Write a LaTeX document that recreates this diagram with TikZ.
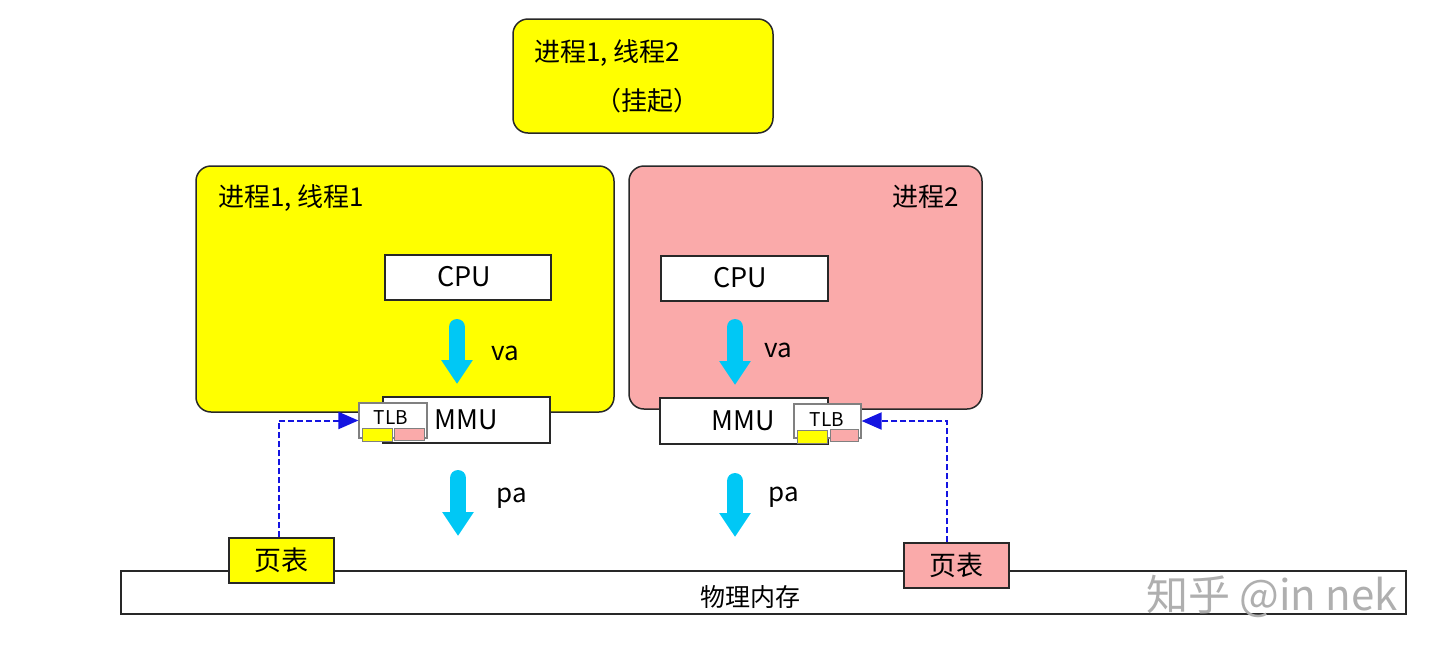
\documentclass[tikz,border=0pt]{standalone}
\usepackage{fontspec}
\setmainfont{Noto Sans CJK SC}
\usetikzlibrary{arrows.meta}
\definecolor{pyellow}{RGB}{255,255,0}
\definecolor{ppink}{RGB}{250,170,170}
\definecolor{acyan}{RGB}{0,200,245}
\definecolor{dblue}{RGB}{20,20,225}
\definecolor{edge}{RGB}{40,40,40}
\definecolor{wm}{RGB}{175,175,175}
\tikzset{
  procbox/.style={draw=edge, line width=0.75pt, rounded corners=7.5pt, inner sep=0pt},
  unitbox/.style={draw=edge, line width=0.75pt, fill=white, inner sep=0pt, font=\fontsize{13.5}{15}\selectfont},
  tlbbox/.style={draw=gray, line width=0.6pt, fill=white, inner sep=0pt},
  label/.style={inner sep=0pt, font=\fontsize{13}{15}\selectfont},
  flow/.style={acyan, line width=8pt, line cap=round, -{Triangle[width=15pt,length=12pt]}},
  dashconn/.style={dblue, line width=1pt, dash pattern=on 3pt off 1.5pt, -{Triangle[width=8.5pt,length=10pt]}},
  mini/.style={draw=gray, line width=0.4pt}
}
\begin{document}
\begin{tikzpicture}[x=0.5pt,y=-0.5pt]
\useasboundingbox (0,0) rectangle (1440,649);
% physical memory
\node[unitbox, minimum width=642.5pt, minimum height=21.5pt] (mem) at (763.5,592.5) {};
\node[label, font=\fontsize{12.5}{14}\selectfont] (memt) at (750,597) {物理内存};
% top suspended thread box
\node[procbox, fill=pyellow, minimum width=130pt, minimum height=57pt] (t2) at (643,76) {};
\node[label, anchor=west] (t2a) at (534,53) {进程1, 线程2};
\node[label] (t2b) at (647,101) {（挂起）};
% process boxes
\node[procbox, fill=pyellow, minimum width=209pt, minimum height=123pt] (p1) at (405,289) {};
\node[label, anchor=west] (p1t) at (218,198) {进程1, 线程1};
\node[procbox, fill=ppink, minimum width=176.5pt, minimum height=121.5pt] (p2) at (805.5,287.5) {};
\node[label] (p2t) at (926,197) {进程2};
% CPUs
\node[unitbox, minimum width=83pt, minimum height=22.5pt] (cpu1) at (468,277.5) {};
\node[label, font=\fontsize{13.5}{15}\selectfont] (cpu1t) at (464,277) {CPU};
\node[unitbox, minimum width=83.5pt, minimum height=22.5pt] (cpu2) at (744.5,278.5) {};
\node[label, font=\fontsize{13.5}{15}\selectfont] (cpu2t) at (740,278) {CPU};
% MMUs
\node[unitbox, minimum width=83.5pt, minimum height=23pt] (mmu1) at (466.5,420) {};
\node[label, font=\fontsize{13.5}{15}\selectfont] (mmu1t) at (466,420) {MMU};
\node[unitbox, minimum width=84pt, minimum height=23pt] (mmu2) at (744,421) {};
\node[label, font=\fontsize{13.5}{15}\selectfont] (mmu2t) at (743,421) {MMU};
% TLBs
\node[tlbbox, minimum width=34pt, minimum height=17.5pt] (tlb1) at (393,420.5) {};
\node[inner sep=0pt, font=\fontsize{9.5}{10}\selectfont] (tlb1t) at (391,418) {TLB};
\draw[mini, fill=pyellow] (362,428) rectangle (392,441);
\draw[mini, fill=ppink] (394,428) rectangle (424,440);
\node[tlbbox, minimum width=33.5pt, minimum height=17pt] (tlb2) at (827.5,421) {};
\node[inner sep=0pt, font=\fontsize{9.5}{10}\selectfont] (tlb2t) at (827,420) {TLB};
\draw[mini, fill=pyellow] (797,430) rectangle (827,443);
\draw[mini, fill=ppink] (830,429) rectangle (858,441);
% flow arrows
\coordinate (va1s) at (457,327); \coordinate (va1e) at (457,384);
\coordinate (va2s) at (735,327); \coordinate (va2e) at (735,385);
\coordinate (pa1s) at (458,478); \coordinate (pa1e) at (458,536);
\coordinate (pa2s) at (735,481); \coordinate (pa2e) at (735,537);
\draw[flow] (va1s) -- (va1e);
\draw[flow] (va2s) -- (va2e);
\draw[flow] (pa1s) -- (pa1e);
\draw[flow] (pa2s) -- (pa2e);
\node[label] (va1) at (505,353) {va};
\node[label] (va2) at (778,350) {va};
\node[label] (pa1) at (512,498) {pa};
\node[label] (pa2) at (784,497) {pa};
% page tables
\node[unitbox, fill=pyellow, minimum width=52.5pt, minimum height=22.5pt] (pt1) at (281.5,560.5) {页表};
\node[unitbox, fill=ppink, minimum width=52.5pt, minimum height=22.5pt] (pt2) at (956.5,565.5) {页表};
% dashed connectors
\draw[dashconn] (pt1.north -| 279,0) |- (tlb1.west);
\draw[dashconn] (pt2.north -| 947,0) |- (tlb2.east);
% watermark
\node[inner sep=0pt, text=wm, font=\fontsize{21}{24}\selectfont] (wmk) at (1272,596) {知乎 @in nek};
\end{tikzpicture}
\end{document}
